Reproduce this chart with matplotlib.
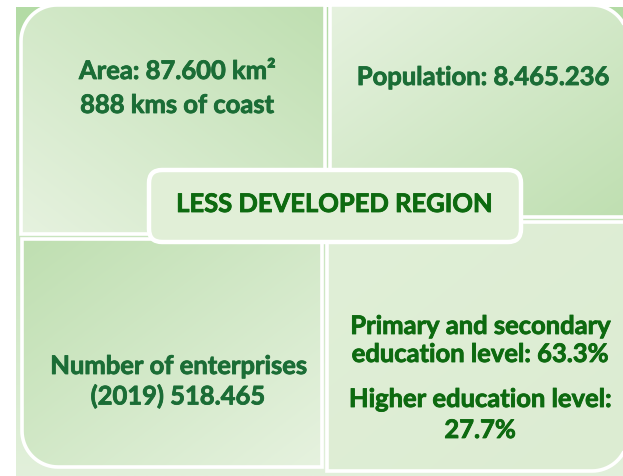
import numpy as np
import matplotlib
matplotlib.use("Agg")
import matplotlib.pyplot as plt
import matplotlib.patheffects as pe
from matplotlib.path import Path
from matplotlib.patches import PathPatch, FancyBboxPatch
from matplotlib.colors import LinearSegmentedColormap

# texts of the four tiles and the centre label
area_lines = ["Area: 87.600 km²", "888 kms of coast"]
population_lines = ["Population: 8.465.236"]
enterprise_lines = ["Number of enterprises", "(2019) 518.465"]
education_lines = ["Primary and secondary", "education level: 63.3%",
                   "Higher education level:", "27.7%"]
centre_label = "LESS DEVELOPED REGION"

W, H = 623, 476
fig = plt.figure(figsize=(W / 100, H / 100), dpi=100)
ax = fig.add_axes([0, 0, 1, 1])
ax.set_xlim(0, W)
ax.set_ylim(H, 0)
ax.axis("off")

plt.rcParams["font.family"] = ["Lato", "DejaVu Sans"]


def rounded_path(x0, y0, x1, y1, r):
    # r = radii for corners (top-left, top-right, bottom-right, bottom-left), y down
    pts = []
    def arc(cx, cy, rad, a0, a1):
        t = np.linspace(np.radians(a0), np.radians(a1), 20)
        return list(zip(cx + rad * np.cos(t), cy + rad * np.sin(t)))
    pts += arc(x0 + r[0], y0 + r[0], r[0], 180, 270)
    pts += arc(x1 - r[1], y0 + r[1], r[1], 270, 360)
    pts += arc(x1 - r[2], y1 - r[2], r[2], 0, 90)
    pts += arc(x0 + r[3], y1 - r[3], r[3], 90, 180)
    pts.append(pts[0])
    codes = [Path.MOVETO] + [Path.LINETO] * (len(pts) - 2) + [Path.CLOSEPOLY]
    return Path(pts, codes)


def gradient_tile(x0, y0, x1, y1, radii, c_a, c_b, direction):
    path = rounded_path(x0, y0, x1, y1, radii)
    patch = PathPatch(path, facecolor="none", edgecolor="white", lw=2.6, zorder=3)
    ax.add_patch(patch)
    gx, gy = np.meshgrid(np.linspace(0, 1, 200), np.linspace(0, 1, 200))
    g = direction[0] * gx + direction[1] * gy
    g = (g - g.min()) / (g.max() - g.min())
    cmap = LinearSegmentedColormap.from_list("t", [c_a, c_b])
    im = ax.imshow(g, cmap=cmap, extent=[x0, x1, y1, y0], origin="upper",
                   zorder=2, aspect="auto")
    im.set_clip_path(patch)


# background band behind the tiles
bg = np.linspace(0, 1, 200).reshape(-1, 1)
bg_cmap = LinearSegmentedColormap.from_list("bg", ["#b3dba5", "#e2f0db"])
ax.imshow(bg, cmap=bg_cmap, extent=[16, W, H, 7], zorder=1, aspect="auto")

light, dark = "#e6f2df", "#bfdfb1"
gradient_tile(21, 5, 325, 234, (36, 0, 0, 0), light, dark, (1, -1))
gradient_tile(330, 5, 628, 217, (0, 36, 0, 0), light, dark, (1, 1))
gradient_tile(22, 239, 322, 467, (0, 0, 0, 36), dark, light, (1, 1))
gradient_tile(327, 222, 628, 471, (0, 0, 36, 0), "#e0efd7", "#dcecd2", (1, 1))

# centre label box
box = FancyBboxPatch((149, 170), 372, 72, boxstyle="round,pad=0,rounding_size=13",
                     facecolor="#e1efd7", edgecolor="white", lw=3.2, zorder=5)
ax.add_patch(box)

top_color = "#1b6d36"
bright = "#0d6a10"
fs = 18.4


def put_text(s, cx, y, color):
    ax.text(cx, y, s, ha="center", va="center", fontsize=fs,
            fontweight="bold", color=color, zorder=6,
            path_effects=[pe.withStroke(linewidth=0.6, foreground=color)])


def put_lines(lines, cx, ys, color):
    for s, y in zip(lines, ys):
        put_text(s, cx, y, color)


put_lines(area_lines, 177, [71, 105], top_color)
put_lines(population_lines, 483, [77], top_color)
put_lines(enterprise_lines, 178, [366, 396], top_color)
put_lines(education_lines, 480, [326, 354, 399, 430], bright)
put_text(centre_label, 334, 204, bright)

fig.savefig("out.png", dpi=100)
